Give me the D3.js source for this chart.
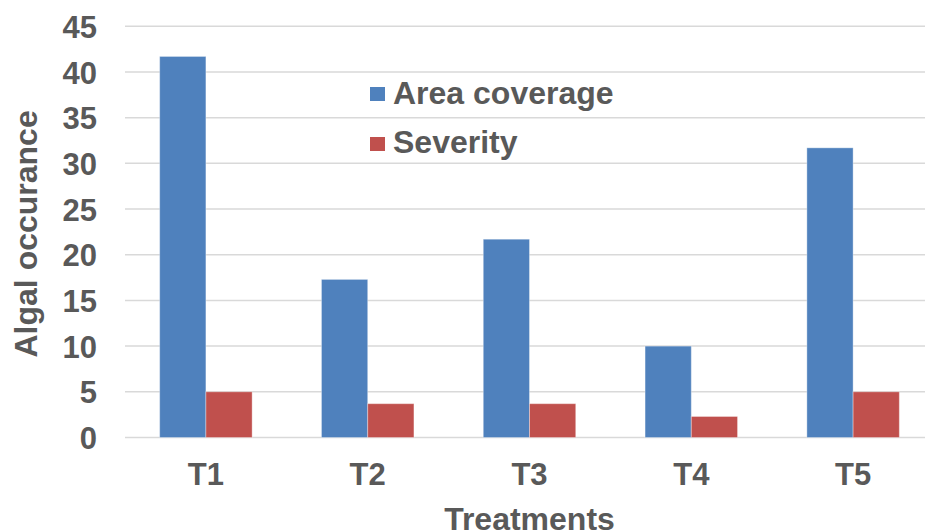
<!DOCTYPE html>
<html>
<head>
<meta charset="utf-8">
<script src="https://cdn.jsdelivr.net/npm/d3@7"></script>
<style>
  html, body { margin: 0; padding: 0; background: #fff; }
  svg { display: block; }
  text { font-family: "Liberation Sans", Arial, sans-serif; font-weight: bold; fill: #595959; }
</style>
</head>
<body>
<svg id="chart" width="925" height="532"></svg>
<script>
// Treatments on the x axis
const categories = ["T1", "T2", "T3", "T4", "T5"];
// Series
const seriesNames = ["Area coverage", "Severity"];
const areaCoverage = [41.7, 17.3, 21.7, 10.0, 31.7];
const severity = [5.0, 3.7, 3.7, 2.3, 5.0];
const seriesColors = ["#4f81bd", "#c0504d"];
// Y axis ticks
const yTicks = [0, 5, 10, 15, 20, 25, 30, 35, 40, 45];

const svg = d3.select("#chart");
const margin = { left: 125, right: -9, top: 26.3, bottom: 94.5 };
const width = 925, height = 532;

const x = d3.scaleBand()
  .domain(categories)
  .range([margin.left, width - margin.right])
  .paddingInner(1.5 / 3.5)
  .paddingOuter(0.75 / 3.5);

const xSeries = d3.scaleBand()
  .domain(seriesNames)
  .range([0, x.bandwidth()]);

const y = d3.scaleLinear()
  .domain([0, 45])
  .range([height - margin.bottom, margin.top]);

// Horizontal gridlines
svg.append("g")
  .selectAll("line")
  .data(yTicks)
  .join("line")
  .attr("x1", margin.left)
  .attr("x2", width - margin.right)
  .attr("y1", d => y(d))
  .attr("y2", d => y(d))
  .attr("stroke", "#d9d9d9")
  .attr("stroke-width", 1.5);

// Y axis labels
const yAxis = svg.append("g")
  .attr("transform", `translate(97,0)`)
  .call(d3.axisLeft(y).tickValues(yTicks).tickSize(0).tickPadding(0));
yAxis.select(".domain").remove();
yAxis.selectAll("text")
  .style("font-size", "31px")
  .attr("dy", "0.36em")
  .style("fill", "#595959");

// Bars
const rows = categories.map((c, i) => ({ cat: c, values: [areaCoverage[i], severity[i]] }));
const groups = svg.append("g")
  .selectAll("g")
  .data(rows)
  .join("g")
  .attr("transform", d => `translate(${x(d.cat)},0)`);

groups.selectAll("rect")
  .data(d => d.values.map((v, j) => ({ name: seriesNames[j], value: v, color: seriesColors[j] })))
  .join("rect")
  .attr("x", d => xSeries(d.name))
  .attr("width", xSeries.bandwidth())
  .attr("y", d => y(d.value))
  .attr("height", d => y(0) - y(d.value))
  .attr("fill", d => d.color)
  .attr("stroke", "rgba(255,255,255,0.35)")
  .attr("stroke-width", 1);

// X axis labels
const xAxis = svg.append("g")
  .attr("transform", `translate(0,${y(0)})`)
  .call(d3.axisBottom(x).tickSize(0).tickPadding(0));
xAxis.select(".domain").remove();
xAxis.selectAll("text")
  .attr("y", 47.5)
  .attr("dy", 0)
  .style("font-size", "31px")
  .style("fill", "#595959");

// Axis titles
svg.append("text")
  .attr("x", (margin.left + width - margin.right) / 2)
  .attr("y", 530)
  .attr("text-anchor", "middle")
  .style("font-size", "32px")
  .text("Treatments");

svg.append("text")
  .attr("transform", `translate(37,${(y(0) + y(45)) / 2 + 2}) rotate(-90)`)
  .attr("text-anchor", "middle")
  .style("font-size", "32px")
  .text("Algal occurance");

// Legend
const legend = svg.append("g");
const legendSwatchY = [94, 144];
const legendBaseline = [103.5, 153];
seriesNames.forEach((name, i) => {
  legend.append("rect")
    .attr("x", 370)
    .attr("y", legendSwatchY[i] - 7)
    .attr("width", 15)
    .attr("height", 14)
    .attr("fill", seriesColors[i]);
  legend.append("text")
    .attr("x", 393)
    .attr("y", legendBaseline[i])
    .style("font-size", "32px")
    .text(name);
});
</script>
</body>
</html>
